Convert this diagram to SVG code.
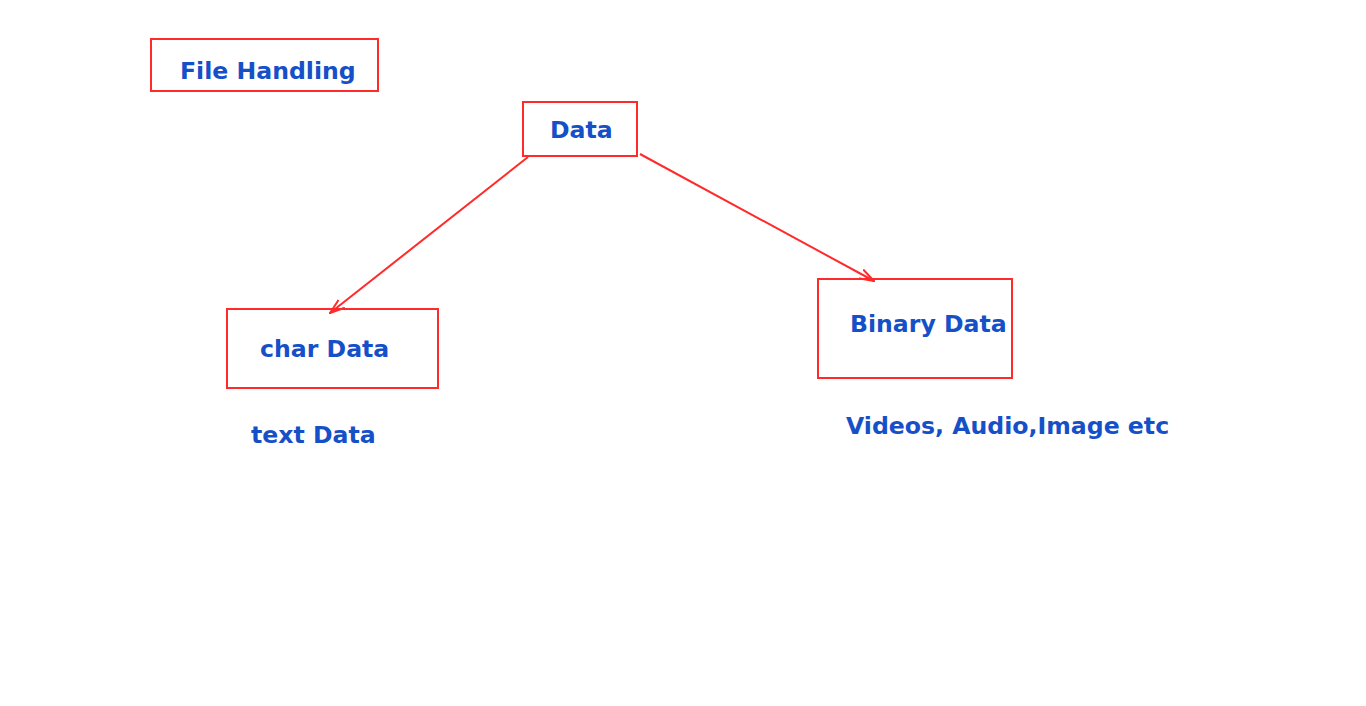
<svg xmlns="http://www.w3.org/2000/svg" width="1366" height="706" viewBox="0 0 1366 706">
<style>
.box{fill:none;stroke:#ff2a2a;stroke-width:2}
.t{font-family:"DejaVu Sans",Verdana,sans-serif;font-weight:bold;font-size:23.6px;fill:#1650c8}
.c{stroke:#ff2a2a;stroke-width:2;fill:none}
</style>
<defs>
<marker id="arr" viewBox="0 0 16 12" refX="15" refY="6" markerWidth="16" markerHeight="12" markerUnits="userSpaceOnUse" orient="auto">
<path d="M0,1 L15,6 L0,11" fill="none" stroke="#ff2a2a" stroke-width="2"/>
</marker>
</defs>
<rect width="1366" height="706" fill="#fff"/>
<g id="file-handling"><rect class="box" x="151" y="39" width="227" height="52"/><text class="t" x="180" y="79">File Handling</text></g>
<g id="data"><rect class="box" x="523" y="102" width="114" height="54"/><text class="t" x="550" y="138">Data</text></g>
<g id="char-data"><rect class="box" x="227" y="309" width="211" height="79"/><text class="t" x="260" y="357">char Data</text></g>
<g id="text-data"><text class="t" x="251" y="443">text Data</text></g>
<g id="binary-data"><rect class="box" x="818" y="279" width="194" height="99"/><text class="t" x="850" y="332">Binary Data</text></g>
<g id="videos"><text class="t" x="846" y="434">Videos, Audio,Image etc</text></g>
<g id="connectors">
<line class="c" x1="528" y1="157" x2="330" y2="313" marker-end="url(#arr)"/>
<line class="c" x1="640" y1="154" x2="874" y2="281" marker-end="url(#arr)"/>
</g>
</svg>
